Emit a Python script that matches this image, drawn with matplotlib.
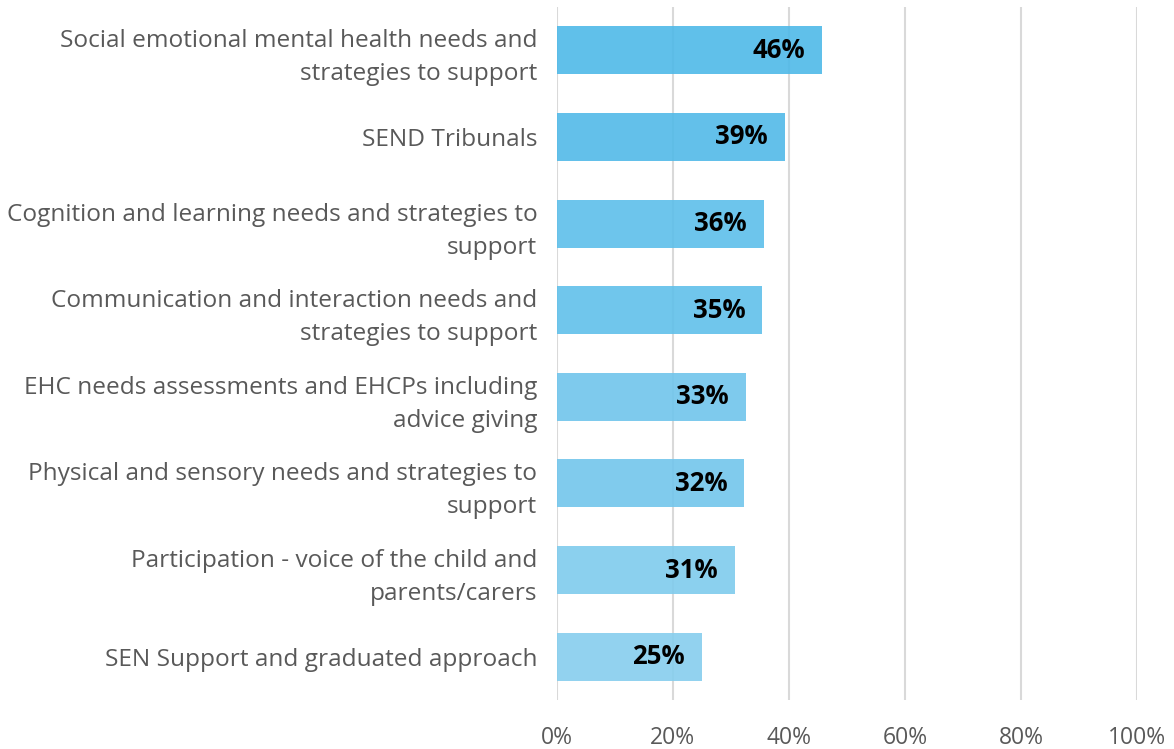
import matplotlib
matplotlib.use("Agg")
import matplotlib.pyplot as plt
from matplotlib.ticker import FuncFormatter
from matplotlib.colors import to_rgb

categories = [
    "Social emotional mental health needs and\nstrategies to support",
    "SEND Tribunals",
    "Cognition and learning needs and strategies to\nsupport",
    "Communication and interaction needs and\nstrategies to support",
    "EHC needs assessments and EHCPs including\nadvice giving",
    "Physical and sensory needs and strategies to\nsupport",
    "Participation - voice of the child and\nparents/carers",
    "SEN Support and graduated approach",
]
values = [45.7, 39.3, 35.7, 35.4, 32.6, 32.3, 30.7, 25.0]
labels = ["46%", "39%", "36%", "35%", "33%", "32%", "31%", "25%"]
colors = ["#61C0EA", "#63C1EA", "#6DC5EC", "#70C6EC", "#7ECBEE", "#80CCEE", "#8CD0EF", "#92D3F0"]
xticks = [0, 20, 40, 60, 80, 100]

plt.rcParams['font.family'] = ['Open Sans', 'DejaVu Sans']

# slightly translucent bars so the gridlines faintly show through, as in the reference
alpha = 0.9
bar_cols = [tuple((c - (1 - alpha)) / alpha for c in to_rgb(col)) for col in colors]

fig = plt.figure(figsize=(11.74, 7.49), dpi=100)
ax = fig.add_axes([0.4742, 0.0654, 0.4943, 0.9253])

y = list(range(len(categories)))
ax.barh(y, values, height=0.554, color=bar_cols, alpha=alpha, zorder=2)
ax.set_ylim(len(categories) - 0.5, -0.5)
ax.set_xlim(0, 100)
ax.set_xticks(xticks)
ax.xaxis.set_major_formatter(FuncFormatter(lambda v, p: f"{int(v)}%"))
ax.set_yticks(y)
ax.set_yticklabels(categories, fontsize=17.6, color="#595959", linespacing=1.5)
ax.tick_params(axis='y', length=0, pad=14)
ax.tick_params(axis='x', length=0, pad=19, labelsize=16.5, labelcolor="#595959")
for s in ax.spines.values():
    s.set_visible(False)
ax.grid(axis='x', color="#D9D9D9", linewidth=1.5, zorder=1)
ax.set_axisbelow(True)

for yi, v, lab in zip(y, values, labels):
    ax.text(v - 2.9, yi, lab, ha='right', va='center', fontsize=18.5,
            fontweight='bold', color='black', zorder=4)

fig.savefig("out.png", dpi=100)
